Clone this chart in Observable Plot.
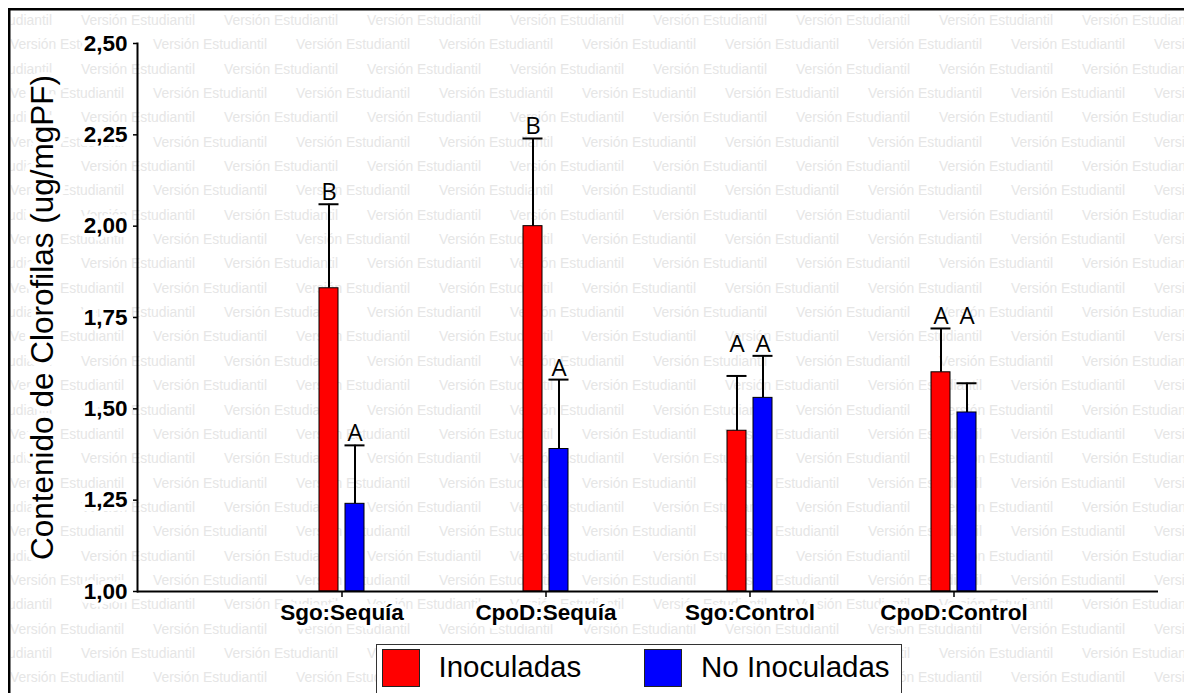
<!DOCTYPE html>
<html>
<head>
<meta charset="utf-8">
<script src="https://cdn.jsdelivr.net/npm/d3@7"></script>
<script src="https://cdn.jsdelivr.net/npm/@observablehq/plot@0.6"></script>
<style>
html, body { margin: 0; padding: 0; background: #fff; }
#wrap { position: relative; width: 1184px; height: 693px; overflow: hidden; background: #fff; font-family: "Liberation Sans", Arial, sans-serif; }
#wm, #chart { position: absolute; left: 0; top: 0; }
#chart svg { display: block; }
#chart g[aria-label="y-axis tick label"] text { font-size: 22.5px; font-weight: bold; paint-order: stroke; stroke: #fff; stroke-width: 8px; stroke-linejoin: round; }
#chart g[aria-label="x-axis tick label"] text { font-size: 22.5px; font-weight: bold; paint-order: stroke; stroke: #fff; stroke-width: 8px; stroke-linejoin: round; }
#chart g[aria-label="y-axis label"] text { font-size: 31.5px; font-weight: normal; paint-order: stroke; stroke: #fff; stroke-width: 10px; stroke-linejoin: round; }
#legend { position: absolute; left: 376px; top: 644px; width: 526px; height: 80px; background: #fff; border: 1.5px solid #333; box-sizing: border-box; }
#legend .sw { position: absolute; top: 3.5px; width: 38px; height: 38px; border: 1.5px solid #222; box-sizing: border-box; }
#legend .lb { position: absolute; top: 7px; font-size: 29.5px; line-height: 29px; color: #000; white-space: nowrap; }
</style>
</head>
<body>
<div id="wrap">
  <div id="wm"></div>
  <div id="chart"></div>
  <div id="legend"></div>
</div>
<script>
// ---- Data ----
const categories = ["Sgo:Sequía", "CpoD:Sequía", "Sgo:Control", "CpoD:Control"];
const series = ["Inoculadas", "No Inoculadas"];
const inoculadas = [1.83, 2.00, 1.44, 1.60];
const noInoculadas = [1.24, 1.39, 1.53, 1.49];
const errInoculadas = [0.23, 0.24, 0.15, 0.12];
const errNoInoculadas = [0.16, 0.19, 0.115, 0.08];
const letrasInoculadas = ["B", "B", "A", "A"];
const letrasNoInoculadas = ["A", "A", "A", "A"];
const yTicks = [1.00, 1.25, 1.50, 1.75, 2.00, 2.25, 2.50];
const colors = ["#ff0000", "#0000ff"];
const yLabel = "Contenido de Clorofilas (ug/mgPF)";
const watermark = "Versión Estudiantil";

// ---- Table ----
const rows = [];
categories.forEach((c, i) => {
  const tops = [inoculadas[i] + errInoculadas[i], noInoculadas[i] + errNoInoculadas[i]];
  const same = letrasInoculadas[i] === letrasNoInoculadas[i];
  const vals = [inoculadas[i], noInoculadas[i]];
  const lets = [letrasInoculadas[i], letrasNoInoculadas[i]];
  series.forEach((s, j) => {
    rows.push({cat: c, serie: s, value: vals[j], top: tops[j], letter: lets[j],
               labelY: same ? Math.max(...tops) : tops[j]});
  });
});
const inoc = rows.filter(d => d.serie === series[0]);
const noin = rows.filter(d => d.serie === series[1]);

// ---- Watermark layer ----
const wm = d3.create("svg").attr("width", 1184).attr("height", 693);
wm.append("defs").append("clipPath").attr("id", "wmclip")
  .append("rect").attr("x", 10.5).attr("y", 10.5).attr("width", 1200).attr("height", 700);
const wg = wm.append("g").attr("clip-path", "url(#wmclip)")
  .attr("fill", "#e6e6e6").attr("font-family", "Liberation Sans, Arial, sans-serif").attr("font-size", 14);
for (let r = 0; r < 29; r++) {
  const y = 20 + 24.35 * r;
  const x0 = r % 2 === 0 ? -62 : 10;
  for (let x = x0; x < 1184; x += 143) {
    wg.append("text").attr("x", x).attr("y", y).attr("dy", "0.35em")
      .attr("textLength", 114).attr("lengthAdjust", "spacingAndGlyphs").text(watermark);
  }
}
wm.append("rect").attr("x", 9.25).attr("y", 9.25).attr("width", 1220).attr("height", 720)
  .attr("fill", "none").attr("stroke", "#000").attr("stroke-width", 2.5);
document.getElementById("wm").append(wm.node());

// ---- Chart ----
const chart = Plot.plot({
  width: 1184,
  height: 693,
  marginLeft: 137,
  marginRight: 26,
  marginTop: 43,
  marginBottom: 102,
  style: {background: "transparent", fontFamily: "Liberation Sans, Arial, sans-serif", color: "#000"},
  x: {domain: categories, paddingInner: 0.7796, paddingOuter: 0.8898, align: 0.5},
  y: {domain: [1, 2.5]},
  marks: [
    Plot.barY(inoc, {x: "cat", y1: 1, y2: "value", fill: colors[0], stroke: "#000", strokeWidth: 1, insetLeft: 0, insetRight: 26}),
    Plot.barY(noin, {x: "cat", y1: 1, y2: "value", fill: colors[1], stroke: "#000", strokeWidth: 1, insetLeft: 26, insetRight: 0}),
    Plot.ruleX(inoc, {x: "cat", y1: "value", y2: "top", dx: -13, stroke: "#000", strokeWidth: 2}),
    Plot.ruleX(noin, {x: "cat", y1: "value", y2: "top", dx: 13, stroke: "#000", strokeWidth: 2}),
    Plot.tickY(inoc, {x: "cat", y: "top", insetLeft: -0.5, insetRight: 25.5, stroke: "#000", strokeWidth: 2}),
    Plot.tickY(noin, {x: "cat", y: "top", insetLeft: 25.5, insetRight: -0.5, stroke: "#000", strokeWidth: 2}),
    Plot.text(inoc, {x: "cat", y: "labelY", text: "letter", dx: -13, dy: -4, lineAnchor: "bottom", fontSize: 24, fontFamily: "Open Sans", fill: "#000"}),
    Plot.text(noin, {x: "cat", y: "labelY", text: "letter", dx: 13, dy: -4, lineAnchor: "bottom", fontSize: 24, fontFamily: "Open Sans", fill: "#000"}),
    Plot.ruleY([1], {stroke: "#000", strokeWidth: 2}),
    Plot.frame({anchor: "left", stroke: "#000", strokeWidth: 2}),
    Plot.axisY({ticks: yTicks, tickFormat: d => d.toFixed(2).replace(".", ","), tickSize: 4, tickPadding: 6,
                strokeWidth: 1.5, label: yLabel, labelAnchor: "center", labelOffset: 107, labelArrow: "none"}),
    Plot.axisX({tickSize: 6, tickPadding: 7, strokeWidth: 1.5, label: null})
  ]
});
document.getElementById("chart").append(chart);

// ---- Legend ----
const legend = d3.select("#legend");
const swLeft = [5, 267], lbLeft = [61.5, 324];
series.forEach((s, j) => {
  legend.append("div").attr("class", "sw").style("left", swLeft[j] + "px").style("background", colors[j]);
  legend.append("div").attr("class", "lb").style("left", lbLeft[j] + "px").text(s);
});
</script>
</body>
</html>
